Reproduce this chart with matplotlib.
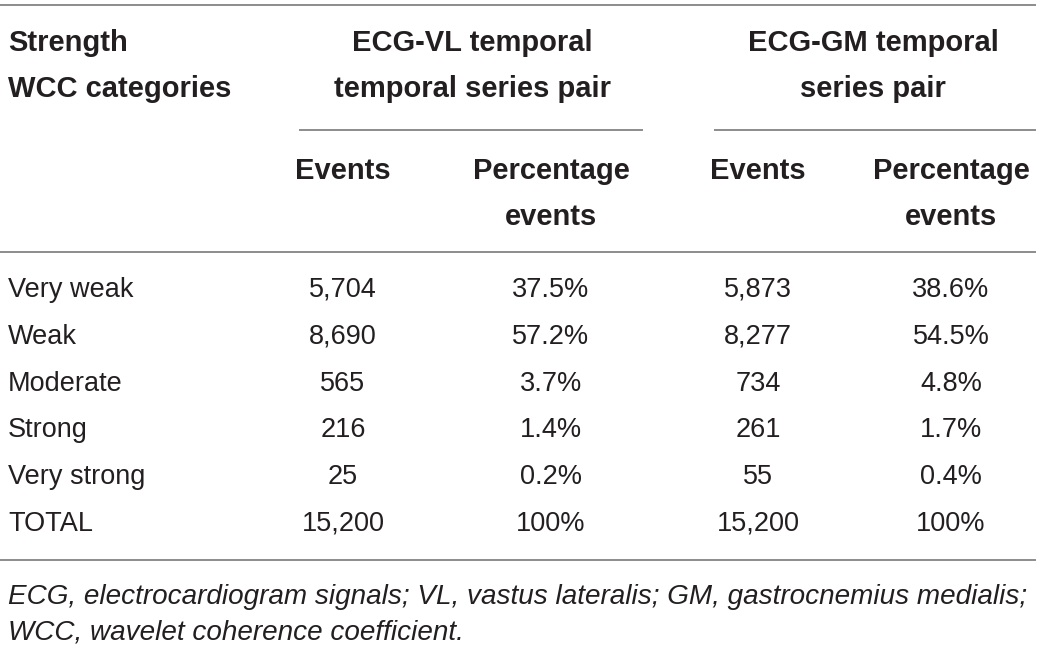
import matplotlib
matplotlib.use("Agg")
import matplotlib.pyplot as plt
from matplotlib.lines import Line2D

categories = ["Very weak", "Weak", "Moderate", "Strong", "Very strong", "TOTAL"]
vl_events = ["5,704", "8,690", "565", "216", "25", "15,200"]
vl_pct = ["37.5%", "57.2%", "3.7%", "1.4%", "0.2%", "100%"]
gm_events = ["5,873", "8,277", "734", "261", "55", "15,200"]
gm_pct = ["38.6%", "54.5%", "4.8%", "1.7%", "0.4%", "100%"]
header_first = "Strength\nWCC categories"
group_headers = ["ECG-VL temporal\ntemporal series pair", "ECG-GM temporal\nseries pair"]
sub_headers = ["Events", "Percentage\nevents"]
footnote = ("ECG, electrocardiogram signals; VL, vastus lateralis; GM, gastrocnemius medialis;\n"
            "WCC, wavelet coherence coefficient.")

W, H = 1040, 645
fig = plt.figure(figsize=(W / 100, H / 100), dpi=100)
plt.rcParams['font.family'] = ['Liberation Sans', 'DejaVu Sans']
FS = 19.5
FS_B = 21
FS_N = 20.1
TXT = "#231f20"
LC = "#8c8c8c"

def fx(x):
    return x / W

def fy(y):
    return 1 - y / H

def hline(x0, x1, y, lw=1.4):
    fig.add_artist(Line2D([fx(x0), fx(x1)], [fy(y), fy(y)], color=LC, lw=lw,
                          transform=fig.transFigure))

def txt(x, y, s, ha="center", bold=False, italic=False, ls=1.81, fs=FS):
    fig.text(fx(x), fy(y), s, ha=ha, va="center", fontsize=fs, color=TXT,
             fontweight="bold" if bold else "normal",
             fontstyle="italic" if italic else "normal", linespacing=ls)

# rules
hline(0, 1035, 5)
hline(300, 642, 130)
hline(715, 1035, 130)
hline(0, 1035, 252)
hline(0, 1035, 560)

# headers
txt(8, 66, header_first, ha="left", bold=True, fs=FS_B)
txt(472, 66, group_headers[0], bold=True, fs=FS_B)
txt(873, 66, group_headers[1], bold=True, fs=FS_B)
col_x = [343, 551, 758, 951]
for i, cx in enumerate(col_x):
    s = sub_headers[i % 2]
    if "\n" in s:
        txt(cx, 194, s, bold=True, fs=FS_B)
    else:
        txt(cx, 171, s, bold=True, fs=FS_B)

# body
row_y0, row_dy = 290, 46.8
for i, cat in enumerate(categories):
    y = row_y0 + i * row_dy
    txt(8, y, cat, ha="left")
    for cx, arr in zip(col_x, [vl_events, vl_pct, gm_events, gm_pct]):
        txt(cx, y, arr[i])

# footnote
txt(8, 615, footnote, ha="left", italic=True, ls=1.47, fs=FS_N)

fig.savefig("out.png", dpi=100, facecolor="white")
